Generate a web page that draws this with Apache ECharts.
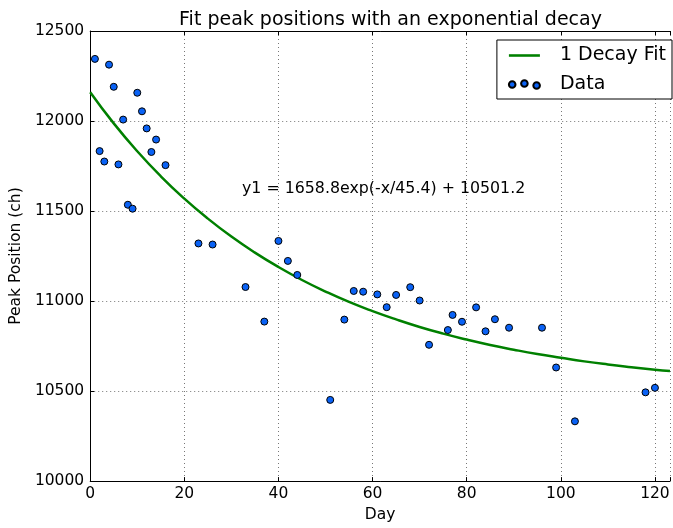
<!DOCTYPE html>
<html>
<head>
<meta charset="utf-8">
<script src="https://cdn.jsdelivr.net/npm/echarts@6/dist/echarts.min.js"></script>
<style>html,body{margin:0;padding:0;background:#fff;}#c{width:673px;height:528px;}</style>
</head>
<body>
<div id="c"></div>
<script>
// Measured data points (Day, Peak Position)
var dataDays = [1,2,3,4,5,6,7,8,9,10,11,12,13,14,16,23,26,33,37,40,42,44,51,54,56,58,61,63,65,68,70,72,76,77,79,82,84,86,89,96,99,103,118,120];
var dataPeaks = [12345,11833,11775,12313,12190,11759,12008,11535,11513,12157,12054,11959,11828,11897,11755,11320,11314,11078,10886,11334,11223,11145,10451,10897,11056,11052,11037,10966,11034,11077,11003,10757,10839,10923,10885,10965,10832,10899,10852,10852,10631,10332,10493,10518];
// Fit curve
var fitDays = [0,5,10,15,20,25,30,35,40,45,50,55,60,65,70,75,80,85,90,95,100,105,110,115,120,123.2];
var fitPeaks = [12160,11987,11832,11693,11569,11458,11358,11269,11189,11117,11053,10995,10944,10898,10856,10819,10786,10756,10730,10706,10685,10665,10648,10633,10619,10611];
var xTicks = [0,20,40,60,80,100,120];
var yTicks = [10000,10500,11000,11500,12000,12500];

var FONT = 'DejaVu Sans';
var chart = echarts.init(document.getElementById('c'));
var scatterData = dataDays.map(function(d,i){return [d, dataPeaks[i]];});
var fitData = fitDays.map(function(d,i){return [d, fitPeaks[i]];});

var dotsIcon = 'path://M0,6a3.5,3.5 0 1,0 7,0a3.5,3.5 0 1,0 -7,0z M13,5a3.5,3.5 0 1,0 7,0a3.5,3.5 0 1,0 -7,0z M26,7a3.5,3.5 0 1,0 7,0a3.5,3.5 0 1,0 -7,0z';

chart.setOption({
  animation: false,
  backgroundColor: '#fff',
  title: {
    text: 'Fit peak positions with an exponential decay',
    left: 385.5, top: 6, textAlign: 'center',
    textStyle: {fontFamily: FONT, fontSize: 19, fontWeight: 'normal', color: '#000'}
  },
  grid: {left: 90, top: 31, right: 0, bottom: 40, containLabel: false},
  legend: {
    right: 1, top: 40, orient: 'vertical',
    backgroundColor: '#fff', borderColor: '#000', borderWidth: 1, borderRadius: 0,
    padding: [6, 6, 5, 11], itemGap: 10, itemWidth: 31, itemHeight: 14,
    textStyle: {fontFamily: FONT, fontSize: 19, color: '#000', padding: [0,0,0,15]},
    data: [
      {name: '1 Decay Fit', icon: 'path://M0,6L30,6L30,8.5L0,8.5z', itemStyle:{color:'#008000'}},
      {name: 'Data', icon: dotsIcon}
    ]
  },
  xAxis: [{
    type: 'value', min: 0, max: 123.2, interval: 20, position: 'bottom',
    name: 'Day', nameLocation: 'middle', nameGap: 24,
    nameTextStyle: {fontFamily: FONT, fontSize: 15.5, color: '#000'},
    axisLine: {show: true, lineStyle: {color: '#000', width: 1}},
    axisTick: {show: true, inside: true, length: 4, lineStyle: {color: '#000'}},
    axisLabel: {fontFamily: FONT, fontSize: 15.5, color: '#000', margin: 5,
      formatter: function(v){ return xTicks.indexOf(v) >= 0 ? String(v) : ''; }},
    splitLine: {show: true, lineStyle: {color: '#777', type: [1,3], width: 1}}
  }, {
    type: 'value', min: 0, max: 123.2, interval: 20, position: 'top',
    axisLine: {show: true, lineStyle: {color: '#000', width: 1}},
    axisTick: {show: true, inside: true, length: 4, lineStyle: {color: '#000'}},
    axisLabel: {show: false}, splitLine: {show: false}
  }],
  yAxis: [{
    type: 'value', min: 10000, max: 12500, interval: 500,
    name: 'Peak Position (ch)', nameLocation: 'middle', nameGap: 60, nameRotate: 90,
    nameTextStyle: {fontFamily: FONT, fontSize: 15.5, color: '#000'},
    axisLine: {show: true, lineStyle: {color: '#000', width: 1}},
    axisTick: {show: true, inside: true, length: 4, lineStyle: {color: '#000'}},
    axisLabel: {fontFamily: FONT, fontSize: 15.5, color: '#000', margin: 6, padding: [3,0,0,0],
      formatter: function(v){ return yTicks.indexOf(v) >= 0 ? String(v) : ''; }},
    splitLine: {show: true, lineStyle: {color: '#777', type: [1,3], width: 1}}
  }],
  series: [{
    name: '1 Decay Fit', type: 'line', data: fitData, smooth: true, showSymbol: false,
    lineStyle: {color: '#008000', width: 2.5}, itemStyle: {color: '#008000'}, z: 2
  }, {
    name: 'Data', type: 'scatter', data: scatterData, symbolSize: 7,
    itemStyle: {color: '#0a62f5', borderColor: '#000', borderWidth: 1, opacity: 1}, z: 3
  }],
  graphic: [{
    type: 'text', left: 242, top: 181,
    style: {text: 'y1 = 1658.8exp(-x/45.4) + 10501.2', fontFamily: FONT, fontSize: 15.8, fill: '#000'}
  }]
});
</script>
</body>
</html>
